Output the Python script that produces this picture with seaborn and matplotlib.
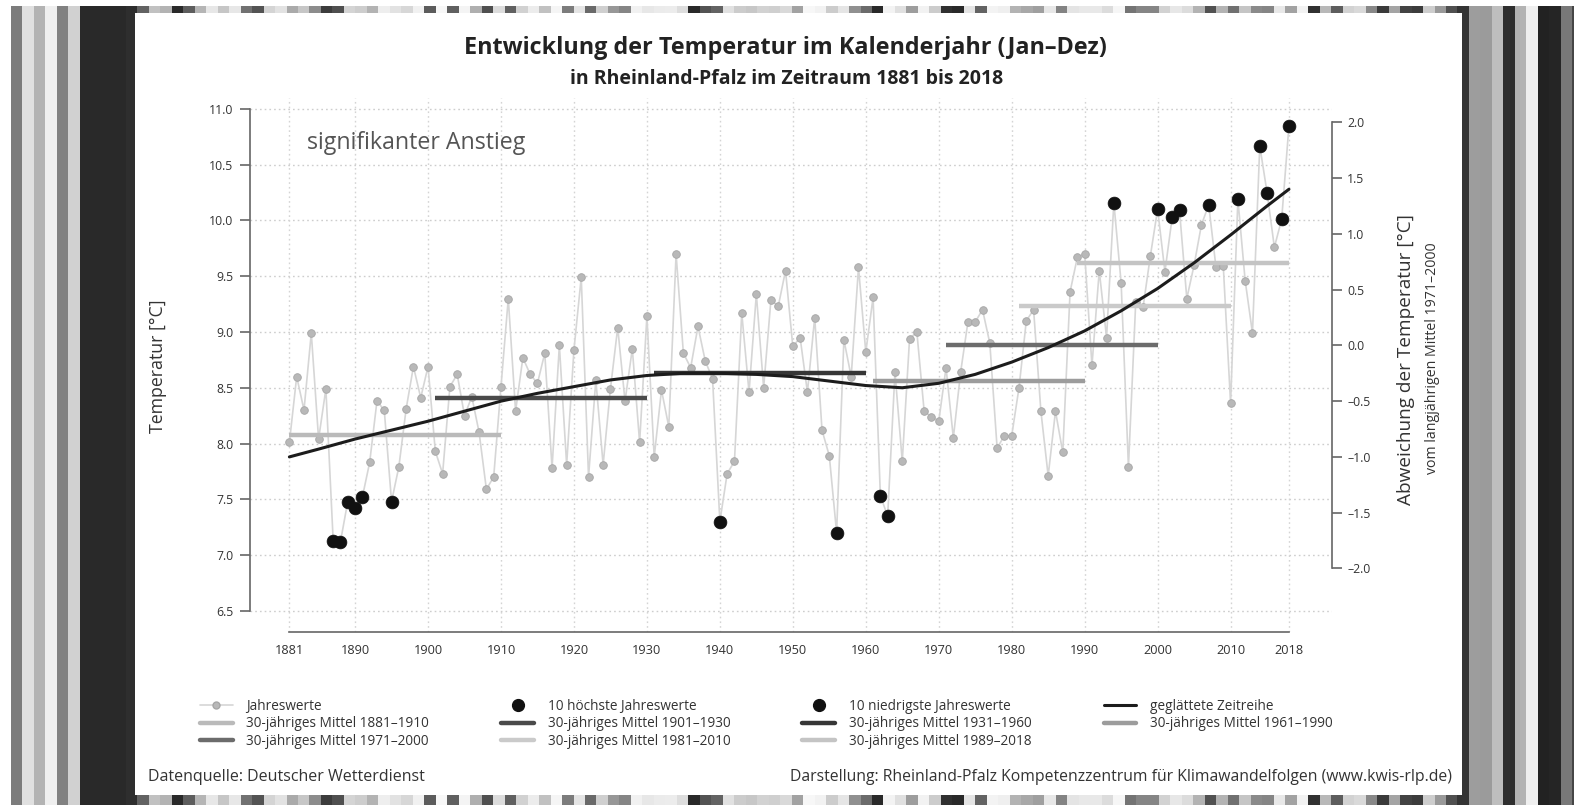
import numpy as np
import pandas as pd
import matplotlib
matplotlib.use("Agg")
import matplotlib.pyplot as plt
import seaborn as sns
from matplotlib.colors import LinearSegmentedColormap
from matplotlib.lines import Line2D
from matplotlib.patches import Rectangle

# Jahresmitteltemperatur Rheinland-Pfalz
years = list(range(1881, 2019))
temps = [
    8.01, 8.60, 8.30, 8.99, 8.04, 8.49, 7.13, 7.12, 7.48, 7.42,
    7.52, 7.83, 8.38, 8.30, 7.48, 7.79, 8.31, 8.69, 8.41, 8.69,
    7.93, 7.73, 8.51, 8.62, 8.25, 8.42, 8.10, 7.59, 7.70, 8.51,
    9.30, 8.29, 8.77, 8.62, 8.54, 8.81, 7.78, 8.88, 7.81, 8.84,
    9.49, 7.70, 8.57, 7.81, 8.49, 9.04, 8.38, 8.85, 8.01, 9.14,
    7.88, 8.48, 8.15, 9.70, 8.81, 8.68, 9.05, 8.74, 8.58, 7.30,
    7.73, 7.84, 9.17, 8.46, 9.34, 8.50, 9.29, 9.23, 9.55, 8.87,
    8.95, 8.46, 9.13, 8.12, 7.89, 7.20, 8.93, 8.60, 9.58, 8.82,
    9.31, 7.53, 7.35, 8.64, 7.84, 8.94, 9.00, 8.29, 8.24, 8.20,
    8.68, 8.05, 8.64, 9.09, 9.09, 9.20, 8.90, 7.96, 8.07, 8.07,
    8.50, 9.10, 9.20, 8.29, 7.71, 8.29, 7.92, 9.36, 9.67, 9.70,
    8.70, 9.55, 8.95, 10.16, 9.44, 7.79, 9.27, 9.22, 9.68, 10.10,
    9.54, 10.03, 10.09, 9.30, 9.60, 9.96, 10.14, 9.58, 9.59, 8.36,
    10.19, 9.46, 8.99, 10.67, 10.25, 9.76, 10.01, 10.85,
]

# geglättete Zeitreihe
smooth_years = [1881, 1885, 1890, 1895, 1900, 1905, 1910, 1915, 1920, 1925,
                1930, 1935, 1940, 1945, 1950, 1955, 1960, 1965, 1970, 1975,
                1980, 1985, 1990, 1995, 2000, 2005, 2010, 2015, 2018]
smooth_vals = [7.88, 7.95, 8.04, 8.12, 8.20, 8.29, 8.38, 8.45, 8.51, 8.57,
               8.61, 8.63, 8.63, 8.62, 8.60, 8.56, 8.52, 8.50, 8.54, 8.62,
               8.73, 8.86, 9.01, 9.19, 9.39, 9.62, 9.87, 10.13, 10.28]

# 30-jährige Mittel
period_start = [1881, 1901, 1931, 1961, 1971, 1981, 1989]
period_end = [1910, 1930, 1960, 1990, 2000, 2010, 2018]
period_mean = [8.08, 8.41, 8.63, 8.56, 8.88, 9.23, 9.62]
period_color = ["#bababa", "#4a4a4a", "#363636", "#9c9c9c", "#6c6c6c", "#cacaca", "#c4c4c4"]

ref_mean = 8.88  # Mittel 1971-2000
x_ticks = [1881, 1890, 1900, 1910, 1920, 1930, 1940, 1950, 1960, 1970, 1980, 1990, 2000, 2010, 2018]
y_ticks = [6.5, 7.0, 7.5, 8.0, 8.5, 9.0, 9.5, 10.0, 10.5, 11.0]
y2_ticks = [-2.0, -1.5, -1.0, -0.5, 0.0, 0.5, 1.0, 1.5, 2.0]

sns.set_style("white")
plt.rcParams['font.family'] = ['Open Sans', 'DejaVu Sans']

W, H = 1574, 805
fig = plt.figure(figsize=(W / 100, H / 100), dpi=100)

# ✅ Streifen im Hintergrund (Graustufen von RdBu_r)
rdbu = sns.color_palette("RdBu_r", 256)
grays = [(0.299 * r + 0.587 * g + 0.114 * b,) * 3 for r, g, b in rdbu]
stripe_cmap = LinearSegmentedColormap.from_list("stripes_gray", grays)

stripe_w = 11.48
bg = fig.add_axes([11 / W, 0, len(years) * stripe_w / W, 1 - 6 / H])
bg.set_zorder(-3)
sns.heatmap(pd.DataFrame([temps], columns=years), ax=bg, cmap=stripe_cmap,
            vmin=ref_mean - 1.4, vmax=ref_mean + 1.4, cbar=False,
            xticklabels=False, yticklabels=False)
bg.set_axis_off()

panel = Rectangle((135 / W, 1 - 795 / H), 1327 / W, 782 / H, transform=fig.transFigure,
                  facecolor="white", edgecolor="none", zorder=-2)
fig.add_artist(panel)

# ✅ Hauptachse
ax = fig.add_axes([250 / W, 1 - 632 / H, 1082 / W, 534.2 / H])
ax.set_facecolor("none")
ax.set_xlim(1875.6, 2023.9)
ax.set_ylim(6.31, 11.1)

for yt in y_ticks:
    ax.axhline(yt, color="#cdcdcd", lw=1.0, ls=(0, (1.2, 2.2)), zorder=1)
for xt in x_ticks:
    ax.axvline(xt, color="#d4d4d4", lw=1.0, ls=(0, (1.2, 2.2)), zorder=1)

sns.lineplot(x=years, y=temps, ax=ax, color="#d6d6d6", lw=1.2, marker="o",
             markersize=5.5, markerfacecolor="#b8b8b8", markeredgecolor="#a6a6a6",
             markeredgewidth=0.6, zorder=2)

for s, e, m, c in zip(period_start, period_end, period_mean, period_color):
    ax.plot([s, e], [m, m], color=c, lw=3.2, solid_capstyle="butt", zorder=3)

sns.lineplot(x=smooth_years, y=smooth_vals, ax=ax, color="#1c1c1c", lw=2.2, zorder=4)

df = pd.DataFrame({"year": years, "temp": temps})
top10 = df.nlargest(10, "temp")
low10 = df.nsmallest(10, "temp")
for part in (top10, low10):
    sns.scatterplot(data=part, x="year", y="temp", ax=ax, color="#111111", s=85,
                    edgecolor="#111111", linewidth=0.5, zorder=5)

for sp in ["top", "right"]:
    ax.spines[sp].set_visible(False)
ax.spines["left"].set_bounds(6.5, 11.0)
ax.spines["bottom"].set_bounds(1881, 2018)
for sp in ["left", "bottom"]:
    ax.spines[sp].set_color("#666666")
    ax.spines[sp].set_linewidth(1.2)

ax.set_xticks(x_ticks)
ax.set_xticklabels([str(t) for t in x_ticks], fontsize=9.2, color="#333333")
ax.set_yticks(y_ticks)
ax.set_yticklabels([f"{t:.1f}" for t in y_ticks], fontsize=8.8, color="#333333")
ax.tick_params(axis="x", length=6, width=1.2, color="#666666", pad=3)
ax.tick_params(axis="y", length=7, width=1.2, color="#666666", pad=5)
ax.set_xlabel("")
ax.set_ylabel("")

# ✅ rechte Achse: Abweichung
ax2 = ax.twinx()
ax2.set_ylim(6.31 - ref_mean, 11.1 - ref_mean)
for sp in ["top", "left", "bottom"]:
    ax2.spines[sp].set_visible(False)
ax2.spines["right"].set_bounds(-2.0, 2.0)
ax2.spines["right"].set_color("#666666")
ax2.spines["right"].set_linewidth(1.2)
ax2.set_yticks(y2_ticks)
ax2.set_yticklabels([f"{t:.1f}".replace("-", "\u2013") for t in y2_ticks], fontsize=8.8, color="#333333")
ax2.tick_params(axis="y", length=7, width=1.2, color="#666666", pad=4)
ax2.grid(False)

# ✅ Texte
fig.text(0.499, 1 - 48 / H, "Entwicklung der Temperatur im Kalenderjahr (Jan\u2013Dez)",
         ha="center", va="center", fontsize=16.8, fontweight="bold", color="#222222")
fig.text(0.5, 1 - 79 / H, "in Rheinland-Pfalz im Zeitraum 1881 bis 2018",
         ha="center", va="center", fontsize=14, fontweight="bold", color="#222222")
fig.text(307 / W, 1 - 143 / H, "signifikanter Anstieg", ha="left", va="center",
         fontsize=16.7, color="#555555")
fig.text(158 / W, 1 - 366 / H, "Temperatur [°C]", rotation=90, ha="center", va="center",
         fontsize=12.8, color="#333333")
fig.text(1406 / W, 1 - 360 / H, "Abweichung der Temperatur [°C]", rotation=90,
         ha="center", va="center", fontsize=13.7, color="#333333")
fig.text(1432 / W, 1 - 358 / H, "vom langjährigen Mittel 1971\u20132000", rotation=90,
         ha="center", va="center", fontsize=10.2, color="#333333")
fig.text(148 / W, 1 - 777 / H, "Datenquelle: Deutscher Wetterdienst", ha="left", va="center",
         fontsize=11.5, color="#333333")
fig.text(1452 / W, 1 - 777 / H,
         "Darstellung: Rheinland-Pfalz Kompetenzzentrum für Klimawandelfolgen (www.kwis-rlp.de)",
         ha="right", va="center", fontsize=11.3, color="#333333")

# ✅ Legende (spaltenweise sortiert)
def line_handle(c, lw=3.2):
    return Line2D([], [], color=c, lw=lw)

h_jahr = Line2D([], [], color="#d6d6d6", lw=1.2, marker="o", markersize=5,
                markerfacecolor="#b8b8b8", markeredgecolor="#a6a6a6")
h_dot = Line2D([], [], ls="none", marker="o", markersize=8.5, color="#111111")
lab = lambda i: f"30-jähriges Mittel {period_start[i]}\u2013{period_end[i]}"
handles = [h_jahr, line_handle(period_color[0]), line_handle(period_color[4]),
           h_dot, line_handle(period_color[1]), line_handle(period_color[5]),
           h_dot, line_handle(period_color[2]), line_handle(period_color[6]),
           line_handle("#1c1c1c", 2.2), line_handle(period_color[3])]
labels = ["Jahreswerte", lab(0), lab(4),
          "10 höchste Jahreswerte", lab(1), lab(5),
          "10 niedrigste Jahreswerte", lab(2), lab(6),
          "geglättete Zeitreihe", lab(3)]
fig.legend(handles, labels, ncol=4, loc="upper left", bbox_to_anchor=(200 / W, 1 - 699 / H),
           frameon=False, fontsize=9.8, handlelength=2.4, handletextpad=1.0,
           columnspacing=5.3, labelspacing=0.17, borderpad=0, borderaxespad=0,
           labelcolor="#333333")

plt.savefig("out.png", dpi=100)
